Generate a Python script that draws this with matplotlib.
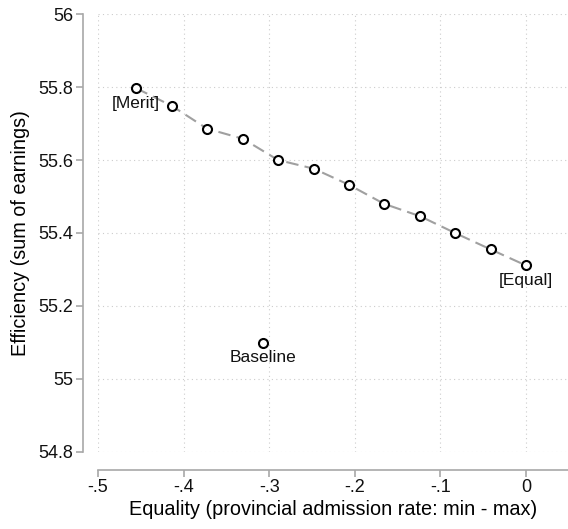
import matplotlib
matplotlib.use('Agg')
import matplotlib.pyplot as plt

plt.rcParams['font.family'] = ['Liberation Sans', 'DejaVu Sans']

# frontier points (from merit to equal)
eq = [-0.4556, -0.4136, -0.3727, -0.3306, -0.2897, -0.2477,
      -0.2068, -0.1659, -0.1238, -0.0829, -0.0413, 0.0]
eff = [55.797, 55.748, 55.686, 55.658, 55.600, 55.576,
       55.532, 55.480, 55.446, 55.400, 55.355, 55.311]
base_x = -0.307
base_y = 55.099

xticks = [-0.5, -0.4, -0.3, -0.2, -0.1, 0.0]
xlabels = ['-.5', '-.4', '-.3', '-.2', '-.1', '0']
yticks = [54.8, 55.0, 55.2, 55.4, 55.6, 55.8, 56.0]
ylabels = ['54.8', '55', '55.2', '55.4', '55.6', '55.8', '56']

fig = plt.figure(figsize=(5.68, 5.29), dpi=100)
ax = fig.add_axes([0.1725, 0.1456, 0.8275, 0.8279])

ax.plot(eq, eff, color='#a0a0a0', ls=(0, (6, 3)), lw=1.5, zorder=2)
ax.plot(eq, eff, ls='none', marker='o', ms=6.5, mfc='white', mec='black', mew=1.5, zorder=3)
ax.plot([base_x], [base_y], ls='none', marker='o', ms=6.5, mfc='white', mec='black', mew=1.5, zorder=3)

for tx, ty, lab in [(eq[0], eff[0], '[Merit]'), (eq[-1], eff[-1], '[Equal]'),
                    (base_x, base_y, 'Baseline')]:
    ax.annotate(lab, (tx, ty), xytext=(0, -5.5), textcoords='offset points',
                ha='center', va='top', fontsize=12.5, color='#111111')

ax.set_xlim(-0.5, 0.049)
ax.set_ylim(54.8, 56.0)
ax.set_xticks(xticks)
ax.set_xticklabels(xlabels)
ax.set_yticks(yticks)
ax.set_yticklabels(ylabels)

ax.grid(True, color='#cccccc', ls=(0, (1, 3)), lw=0.8)
ax.set_axisbelow(True)

for s in ['top', 'right']:
    ax.spines[s].set_visible(False)
ax.spines['left'].set_position(('outward', 11))
ax.spines['bottom'].set_position(('outward', 13))
for s in ['left', 'bottom']:
    ax.spines[s].set_color('#a8a8a8')
    ax.spines[s].set_linewidth(1.2)
ax.spines['left'].set_bounds(54.8, 56.0)
ax.tick_params(colors='#a8a8a8', labelcolor='#111111', labelsize=13, length=5, width=1.2, pad=1.5)

ax.set_xlabel('Equality (provincial admission rate: min - max)', fontsize=14.3, labelpad=3)
ax.set_ylabel('Efficiency (sum of earnings)', fontsize=14.3, labelpad=6)

fig.savefig('out.png', dpi=100)
